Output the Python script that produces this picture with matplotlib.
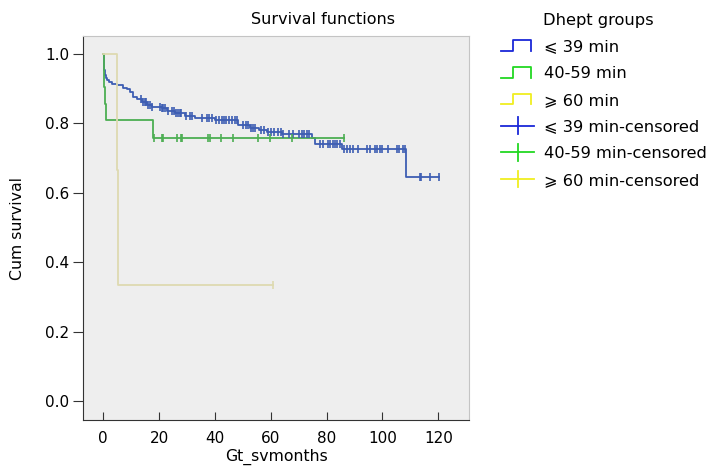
import numpy as np
import matplotlib.pyplot as plt
from matplotlib.lines import Line2D
from matplotlib.legend_handler import HandlerBase

# krzywa <=39 min: czasy zdarzen i przezycie po nich
blue_t = [0.2, 0.4, 0.6, 1.0, 1.5, 2.2, 3.0, 5.0, 7.0, 8.4, 9.6, 10.8, 12.0, 13.8, 15.6,
          17.3, 20.9, 22.7, 25.7, 29.3, 32.9, 40.0, 48.4, 52.5, 55.6, 58.5, 64.0, 74.7,
          75.9, 85.5, 108.5]
blue_s = [0.975, 0.955, 0.94, 0.932, 0.925, 0.918, 0.914, 0.911, 0.903, 0.898, 0.891,
          0.877, 0.87, 0.863, 0.853, 0.848, 0.843, 0.836, 0.829, 0.822, 0.817, 0.810,
          0.795, 0.788, 0.781, 0.776, 0.769, 0.757, 0.740, 0.725, 0.645]
blue_cens = [13.5, 14.2, 14.8, 15.2, 16.0, 16.6, 17.6, 20.2, 21.0, 21.5, 22.0, 23.2, 24.5,
             25.2, 26.0, 26.6, 27.3, 28.0, 29.8, 31.0, 31.8, 35.5, 37.0, 38.0, 39.0, 40.5,
             41.5, 42.5, 43.2, 44.0, 45.0, 46.0, 47.0, 47.8, 50.0, 51.0, 51.8, 52.8, 53.5,
             54.4, 56.5, 57.5, 59.0, 60.0, 61.0, 62.5, 63.5, 64.5, 66.5, 68.0, 70.0, 71.0,
             71.8, 72.8, 73.8, 77.6, 78.8, 80.6, 81.2, 82.4, 83.0, 83.6, 84.8, 86.1, 87.2,
             88.4, 89.5, 91.4, 94.4, 95.6, 97.4, 98.0, 99.1, 99.7, 102.1, 105.1, 106.0,
             107.5, 108.2, 113.3, 113.8, 117.1, 120.1]

# 40-59 min
green_t = [0.1, 0.3, 0.5, 0.8, 17.9]
green_s = [0.952, 0.905, 0.857, 0.810, 0.759]
green_cens = [18.2, 20.9, 21.5, 26.3, 27.8, 28.3, 37.6, 38.2, 42.2, 46.6, 55.3, 59.7,
              67.5, 86.3]

# >=60 min
yellow_t = [4.8, 5.2]
yellow_s = [0.667, 0.333]
yellow_cens = [60.9]

labels = ["\u2a7d 39 min", "40-59 min", "\u2a7e 60 min",
          "\u2a7d 39 min-censored", "40-59 min-censored", "\u2a7e 60 min-censored"]
plot_colors = ['#3d5db3', '#4cae52', '#dedab0']
leg_colors = ['#1a28d8', '#22d822', '#f0ee20']

plt.rcParams['font.family'] = ['DejaVu Sans', 'Noto Sans CJK SC']


def km(ax, t, s, cens, color):
    t_all = np.r_[0.0, t]
    s_all = np.r_[1.0, s]
    end = max(cens[-1], t_all[-1])
    tx = np.r_[t_all, end]
    sx = np.r_[s_all, s_all[-1]]
    ax.step(tx, sx, where='post', color=color, lw=1.3, zorder=3)
    idx = np.searchsorted(t_all, cens, side='right') - 1
    ax.plot(cens, s_all[idx], ls='none', marker='|', ms=6, mew=1.2,
            color=color, zorder=4)


class StepHandler(HandlerBase):
    def create_artists(self, legend, orig, xd, yd, w, h, fontsize, trans):
        x0, y0 = -xd, -yd
        xs = [x0, x0 + w * 0.38, x0 + w * 0.38, x0 + w, x0 + w]
        ys = [y0, y0, y0 + h, y0 + h, y0]
        ln = Line2D(xs, ys, color=orig.get_color(), lw=1.3, transform=trans)
        return [ln]


class CensHandler(HandlerBase):
    def create_artists(self, legend, orig, xd, yd, w, h, fontsize, trans):
        x0, y0 = -xd, -yd
        ln = Line2D([x0, x0 + w * 1.1], [y0 + h / 2, y0 + h / 2],
                    color=orig.get_color(), lw=1.3, transform=trans)
        tk = Line2D([x0 + w * 0.55, x0 + w * 0.55], [y0 - h * 0.3, y0 + h * 1.3],
                    color=orig.get_color(), lw=1.3, transform=trans)
        return [ln, tk]


fig = plt.figure(figsize=(7.08, 4.70), dpi=100)
ax = fig.add_axes([83 / 708, 1 - 420 / 470, (469 - 83) / 708, (420 - 36) / 470])
ax.set_facecolor('#eeeeee')

km(ax, blue_t, blue_s, blue_cens, plot_colors[0])
km(ax, green_t, green_s, green_cens, plot_colors[1])
km(ax, yellow_t, yellow_s, yellow_cens, plot_colors[2])

ax.set_xlim(-7.27, 131.0)
ax.set_ylim(-0.055, 1.052)
ax.set_xticks(range(0, 121, 20))
ax.set_yticks([0.0, 0.2, 0.4, 0.6, 0.8, 1.0])
ax.set_yticklabels(['0.0', '0.2', '0.4', '0.6', '0.8', '1.0'])
ax.tick_params(axis='x', direction='in', length=6, pad=8, labelsize=11, color='#333333')
ax.tick_params(axis='y', direction='out', length=7, pad=3, labelsize=11, color='#333333')
for sp in ['left', 'bottom']:
    ax.spines[sp].set_color('#333333')
for sp in ['top', 'right']:
    ax.spines[sp].set_color('#c4c4c4')

ax.set_xlabel('Gt_svmonths', fontsize=11.3, labelpad=2)
ax.set_ylabel('Cum survival', fontsize=11.3, labelpad=14)
fig.text(323 / 708, 1 - 20 / 470, 'Survival functions', fontsize=11.5,
         ha='center', va='center')

handles = []
for c in leg_colors:
    handles.append(Line2D([], [], color=c))
cens_handles = []
for c in leg_colors:
    cens_handles.append(Line2D([], [], color=c, marker='|'))
hmap = {h: StepHandler() for h in handles}
hmap.update({h: CensHandler() for h in cens_handles})

fig.text(543 / 708, 1 - 20 / 470, 'Dhept groups', fontsize=11.7, ha='left', va='center')
fig.legend(handles + cens_handles, labels, handler_map=hmap,
           loc='upper left', bbox_to_anchor=(490 / 708, 1 - 28 / 470),
           frameon=False, fontsize=11.7, handlelength=1.85, handleheight=0.6,
           handletextpad=0.75, labelspacing=0.72, borderpad=0.2)

fig.savefig('out.png', dpi=100)
